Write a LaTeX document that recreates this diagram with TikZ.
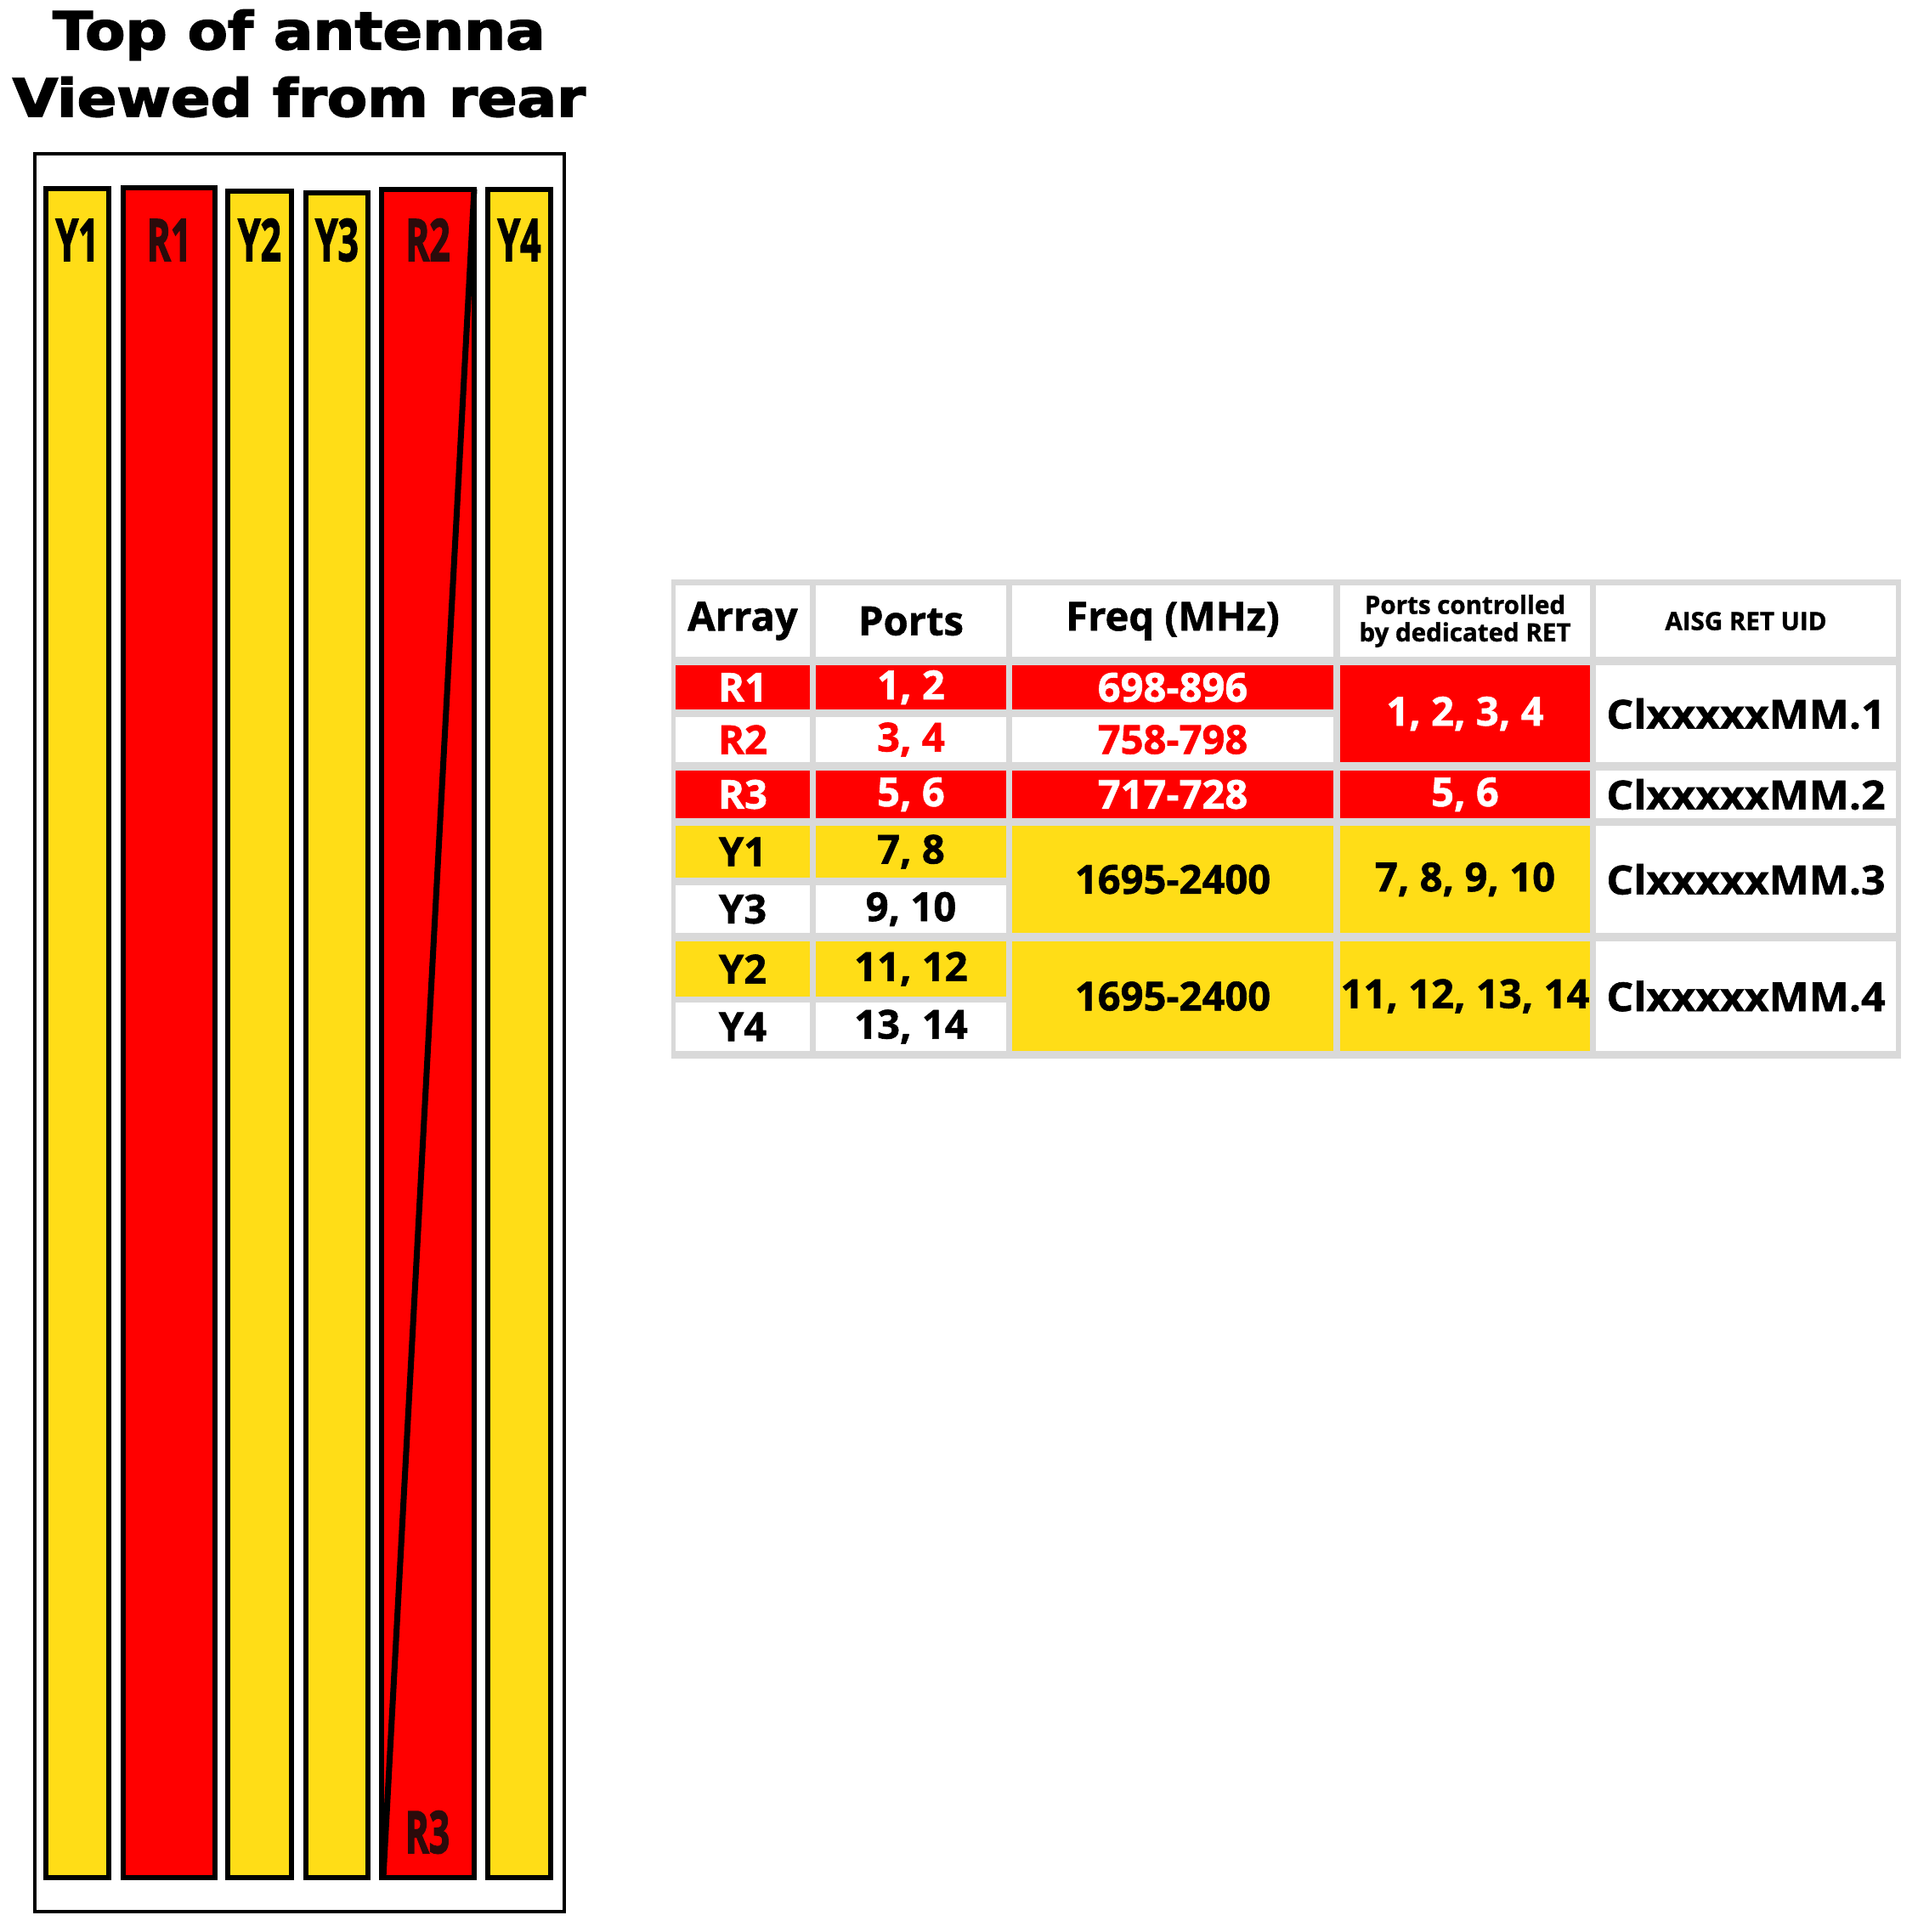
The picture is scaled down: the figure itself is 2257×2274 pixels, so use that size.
\documentclass[tikz,border=0pt]{standalone}
\usepackage{fontspec}
\setmainfont{Open Sans}[BoldFeatures={FakeBold=1.2}]
\newfontfamily\titlefont{DejaVu Sans}[BoldFeatures={FakeBold=2.5}]
\newfontfamily\labfont{Open Sans}[BoldFeatures={FakeBold=2.5}]
\definecolor{antyellow}{RGB}{255,221,23}
\definecolor{antred}{RGB}{255,0,0}
\definecolor{labdark}{RGB}{43,11,11}
\definecolor{tabgray}{RGB}{217,217,217}

\begin{document}
\begin{tikzpicture}[x=0.1mm, y=-0.1mm,
  title/.style={anchor=base, inner sep=0, xscale=1.12, font=\titlefont\bfseries\fontsize{17.5}{20}\selectfont},
  strip/.style={draw=black, line width=1.7pt},
  striplabel/.style={anchor=base, inner sep=0, xscale=0.62, font=\labfont\bfseries\fontsize{19.5}{22}\selectfont},
  cell/.style={inner sep=0, outer sep=0, font=\bfseries\fontsize{13.4}{15}\selectfont},
  small/.style={align=center, font=\bfseries\fontsize{8.4}{9.2}\selectfont},
  cA/.style={minimum width=15.8mm}, cB/.style={minimum width=22.4mm},
  cC/.style={minimum width=37.8mm}, cD/.style={minimum width=29.4mm},
  cE/.style={minimum width=35.3mm},
  redc/.style={fill=antred, text=white},
  yelc/.style={fill=antyellow, text=black},
  whtc/.style={fill=white, text=black},
  rtxt/.style={fill=white, text=antred},
  uid/.style={xscale=1.06}
]
\useasboundingbox (0,0) rectangle (2257,2274);

% title
\node[title] (ttop) at (352,58) {Top of antenna};
\node[title] (trear) at (352,137) {Viewed from rear};

% antenna outline and arrays
\draw[line width=0.9pt] (41,181) rectangle (664,2250);
\foreach \xa/\xb/\yt/\clr/\tc/\nm in {54/128/222/antyellow/black/Y1, 145/253/221/antred/labdark/R1,
    268/343/225/antyellow/black/Y2, 360/433/227/antyellow/black/Y3,
    449/558/223/antred/labdark/R2, 574/648/223/antyellow/black/Y4}
{
  \draw[strip, fill=\clr] (\xa,\yt) rectangle (\xb,2210);
  \node[striplabel, text=\tc] (lab\nm) at ({(\xa+\xb)/2},307) {\nm};
}
\draw[line width=2pt] (558,223) -- (451,2210);
\node[striplabel, text=labdark] (labR3) at (503,2181) {R3};

% table
\fill[tabgray] (790,682) rectangle (2237,1246);

\node[cell, whtc, cA, minimum height=8.4mm] (hArr) at (874,731) {Array};
\node[cell, whtc, cB, minimum height=8.4mm] (hPorts) at (1072,731) {Ports};
\node[cell, whtc, cC, minimum height=8.4mm] (hFreq) at (1380,731) {Freq (MHz)};
\node[cell, whtc, cD, minimum height=8.4mm, small] (hRet) at (1724,731) {Ports controlled\\by dedicated RET};
\node[cell, whtc, cE, minimum height=8.4mm, small] (hUid) at (2054.5,731) {AISG RET UID};

\node[cell, redc, cA, minimum height=5.2mm] (aR1) at (874,809) {R1};
\node[cell, redc, cB, minimum height=5.2mm] (pR1) at (1072,809) {1, 2};
\node[cell, redc, cC, minimum height=5.2mm] (fR1) at (1380,809) {698-896};
\node[cell, rtxt, cA, minimum height=5.3mm] (aR2) at (874,870.5) {R2};
\node[cell, rtxt, cB, minimum height=5.3mm] (pR2) at (1072,870.5) {3, 4};
\node[cell, rtxt, cC, minimum height=5.3mm] (fR2) at (1380,870.5) {758-798};
\node[cell, redc, cD, minimum height=11.4mm] (rR12) at (1724,840) {1, 2, 3, 4};
\fill[white] (1878,783) rectangle (2231,897);
\node[cell, uid] (uR12) at (2054.5,840) {ClxxxxxMM.1};

\node[cell, redc, cA, minimum height=5.6mm] (aR3) at (874,935) {R3};
\node[cell, redc, cB, minimum height=5.6mm] (pR3) at (1072,935) {5, 6};
\node[cell, redc, cC, minimum height=5.6mm] (fR3) at (1380,935) {717-728};
\node[cell, redc, cD, minimum height=5.6mm] (rR3) at (1724,935) {5, 6};
\fill[white] (1878,907) rectangle (2231,963);
\node[cell, uid] (uR3) at (2054.5,935) {ClxxxxxMM.2};

\node[cell, yelc, cA, minimum height=6.1mm] (aY1) at (874,1002.5) {Y1};
\node[cell, yelc, cB, minimum height=6.1mm] (pY1) at (1072,1002.5) {7, 8};
\node[cell, whtc, cA, minimum height=5.6mm] (aY3) at (874,1070) {Y3};
\node[cell, whtc, cB, minimum height=5.6mm] (pY3) at (1072,1070) {9, 10};
\node[cell, yelc, cC, minimum height=12.6mm] (fY13) at (1380,1035) {1695-2400};
\node[cell, yelc, cD, minimum height=12.6mm] (rY13) at (1724,1035) {7, 8, 9, 10};
\fill[white] (1878,972) rectangle (2231,1098);
\node[cell, uid] (uY13) at (2054.5,1035) {ClxxxxxMM.3};

\node[cell, yelc, cA, minimum height=6.5mm] (aY2) at (874,1140.5) {Y2};
\node[cell, yelc, cB, minimum height=6.5mm] (pY2) at (1072,1140.5) {11, 12};
\node[cell, whtc, cA, minimum height=5.7mm] (aY4) at (874,1208.5) {Y4};
\node[cell, whtc, cB, minimum height=5.7mm] (pY4) at (1072,1208.5) {13, 14};
\node[cell, yelc, cC, minimum height=12.9mm] (fY24) at (1380,1172.5) {1695-2400};
\node[cell, yelc, cD, minimum height=12.9mm] (rY24) at (1724,1172.5) {11, 12, 13, 14};
\fill[white] (1878,1108) rectangle (2231,1237);
\node[cell, uid] (uY24) at (2054.5,1172.5) {ClxxxxxMM.4};
\end{tikzpicture}
\end{document}
